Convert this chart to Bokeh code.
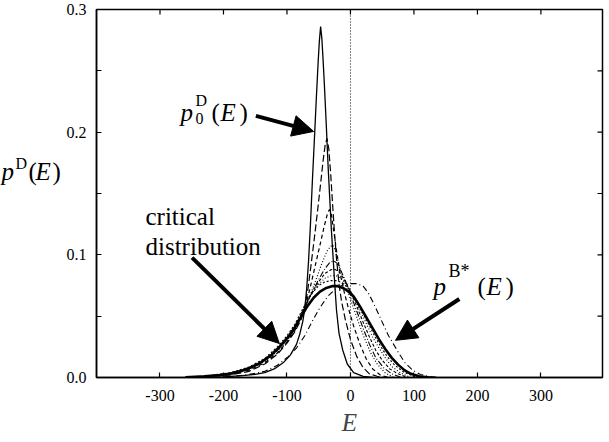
from math import pi
from bokeh.plotting import figure
from bokeh.layouts import row
from bokeh.models import Range1d, FixedTicker, Span, Label, Arrow, NormalHead, PrintfTickFormatter
from bokeh.embed import file_html
from bokeh.resources import INLINE

# ---------------- data ----------------
X_TICKS = [-300, -200, -100, 0, 100, 200, 300]
Y_TICKS = [0.0, 0.1, 0.2, 0.3]
Y_MINOR = [0.05, 0.15, 0.25]
X_MIN, X_MAX = -400, 397
Y_MIN, Y_MAX = 0.0, 0.3

E_P0 = [-250, -200, -170, -150, -135, -120, -105, -95, -85, -80, -75, -72, -69, -66, -63, -60, -57, -54, -51, -49,
        -47, -45, -43, -41, -38, -35, -32, -30, -27, -25, -22, -18, -12, -5, 5, 20, 35]
P_P0 = [0.0, 0.0005, 0.0015, 0.0025, 0.004, 0.007, 0.0125, 0.018, 0.027, 0.035, 0.046, 0.056, 0.072, 0.095, 0.125,
        0.16, 0.192, 0.225, 0.256, 0.274, 0.286, 0.276, 0.258, 0.238, 0.205, 0.17, 0.14, 0.12, 0.095, 0.078, 0.055,
        0.036, 0.022, 0.011, 0.004, 0.001, 0.0]
E_C1 = [-230, -190, -160, -135, -115, -100, -88, -78, -72, -67, -62, -57, -52, -47, -43, -40, -37, -34, -31, -28,
        -25, -22, -18, -14, -8, 0, 10, 20, 30, 42, 55]
P_C1 = [0.0005, 0.002, 0.005, 0.011, 0.019, 0.028, 0.037, 0.047, 0.057, 0.072, 0.092, 0.113, 0.135, 0.158, 0.177,
        0.189, 0.195, 0.186, 0.165, 0.14, 0.117, 0.097, 0.076, 0.062, 0.047, 0.031, 0.017, 0.008, 0.003, 0.001, 0.0]
E_C2 = [-230, -190, -160, -135, -115, -100, -88, -78, -71, -64, -56, -48, -41, -36, -33, -30, -26, -21, -16, -10,
        -3, 5, 15, 25, 35, 47, 60]
P_C2 = [0.0006, 0.0025, 0.006, 0.012, 0.02, 0.029, 0.038, 0.048, 0.058, 0.072, 0.09, 0.108, 0.124, 0.134, 0.137,
        0.133, 0.118, 0.1, 0.084, 0.07, 0.056, 0.042, 0.027, 0.015, 0.007, 0.002, 0.0]
E_C3 = [-230, -190, -160, -135, -115, -100, -88, -78, -70, -62, -54, -45, -37, -31, -28, -24, -19, -13, -6, 2, 12,
        22, 32, 42, 54, 68]
P_C3 = [0.0007, 0.003, 0.0065, 0.013, 0.021, 0.03, 0.039, 0.049, 0.059, 0.069, 0.08, 0.093, 0.103, 0.107, 0.108,
        0.104, 0.094, 0.084, 0.073, 0.061, 0.046, 0.032, 0.02, 0.011, 0.004, 0.0]
E_C4 = [-230, -190, -160, -135, -115, -100, -88, -78, -70, -60, -50, -40, -32, -26, -21, -15, -8, 0, 10, 20, 30, 40,
        52, 65, 80]
P_C4 = [0.0008, 0.0032, 0.007, 0.014, 0.022, 0.031, 0.04, 0.05, 0.059, 0.07, 0.08, 0.089, 0.094, 0.095, 0.093,
        0.087, 0.079, 0.068, 0.054, 0.04, 0.027, 0.016, 0.008, 0.003, 0.0]
E_C5 = [-230, -190, -160, -135, -115, -100, -88, -78, -70, -60, -50, -40, -30, -24, -18, -10, 0, 10, 20, 30, 40, 50,
        62, 75, 90]
P_C5 = [0.0009, 0.0034, 0.0075, 0.0145, 0.023, 0.032, 0.041, 0.051, 0.06, 0.07, 0.078, 0.085, 0.088, 0.088, 0.086,
        0.08, 0.07, 0.058, 0.045, 0.033, 0.022, 0.014, 0.007, 0.003, 0.0]
E_C6 = [-230, -190, -160, -135, -115, -100, -88, -78, -70, -60, -50, -40, -30, -23, -15, -5, 5, 15, 25, 35, 45, 55,
        65, 78, 95]
P_C6 = [0.001, 0.0036, 0.008, 0.015, 0.024, 0.033, 0.042, 0.052, 0.06, 0.069, 0.076, 0.081, 0.083, 0.083, 0.081,
        0.075, 0.066, 0.055, 0.044, 0.033, 0.024, 0.016, 0.009, 0.004, 0.0]
E_C7 = [-230, -190, -160, -135, -115, -100, -88, -78, -70, -60, -50, -40, -30, -22, -12, -2, 8, 18, 28, 38, 48, 58,
        70, 85, 105]
P_C7 = [0.001, 0.0038, 0.0085, 0.0155, 0.025, 0.034, 0.043, 0.053, 0.061, 0.069, 0.075, 0.078, 0.079, 0.079, 0.077,
        0.072, 0.064, 0.054, 0.044, 0.034, 0.025, 0.017, 0.01, 0.004, 0.0]
E_CR = [-260, -230, -205, -185, -165, -145, -125, -108, -95, -85, -76, -68, -58, -48, -38, -28, -20, -12, -4, 5, 15,
        25, 35, 45, 55, 65, 75, 85, 95, 108, 125]
P_CR = [0.0002, 0.001, 0.002, 0.0035, 0.0065, 0.011, 0.018, 0.027, 0.035, 0.043, 0.051, 0.058, 0.065, 0.07, 0.073,
        0.0745, 0.0745, 0.073, 0.0705, 0.066, 0.058, 0.049, 0.04, 0.031, 0.023, 0.016, 0.0105, 0.006, 0.003, 0.001,
        0.0]
E_PB = [-200, -165, -135, -115, -98, -85, -72, -60, -48, -36, -24, -12, 0, 10, 20, 28, 36, 44, 52, 60, 68, 76, 86,
        98, 110, 125, 140]
P_PB = [0.0, 0.002, 0.005, 0.01, 0.017, 0.024, 0.034, 0.046, 0.057, 0.066, 0.072, 0.0755, 0.0765, 0.0765, 0.0745,
        0.069, 0.061, 0.052, 0.043, 0.034, 0.027, 0.02, 0.012, 0.006, 0.0025, 0.0008, 0.0]

SERIES = [
    (E_P0, P_P0, "solid", 1.3), (E_C1, P_C1, "7 3", 1.2), (E_C2, P_C2, "4 3", 1.2), (E_C3, P_C3, "1 2", 1.2),
    (E_C4, P_C4, "6 2 1 2", 1.1), (E_C5, P_C5, "3 2", 1.1), (E_C6, P_C6, "1 2", 1.1), (E_C7, P_C7, "2 2", 1.1),
    (E_CR, P_CR, "solid", 2.6), (E_PB, P_PB, "6 3 1 3", 1.1),
]

FONT = "Liberation Serif"
LEFT_W = 63
MAIN_BORDER_LEFT = 96 - LEFT_W
TOP = 9


def lab(fig, text, x, y, size, style="normal"):
    fig.add_layout(Label(x=x, y=y, text=text, text_font=FONT, text_font_size=f"{size}px",
                         text_font_style=style, text_align="left", text_baseline="alphabetic",
                         text_color="black"))


# ---------------- left strip holding the y-axis title ----------------
left = figure(width=LEFT_W, height=442, output_backend="svg", toolbar_location=None,
              x_range=Range1d(0, LEFT_W), y_range=Range1d(442, 0), min_border=0,
              x_axis_location=None, y_axis_location=None)
left.grid.visible = False
left.outline_line_color = None
left.background_fill_color = "white"
left.border_fill_color = "white"

lab(left, "p", 1, 194, 25, "italic")
lab(left, "D", 15, 185, 16)
lab(left, "(", 28, 194, 25)
lab(left, "E", 35, 194, 25, "italic")
lab(left, ")", 52, 194, 25)

# ---------------- main figure ----------------
p = figure(width=609 - LEFT_W, height=442, output_backend="svg", toolbar_location=None,
           x_range=Range1d(X_MIN, X_MAX), y_range=Range1d(Y_MIN, Y_MAX),
           min_border_left=MAIN_BORDER_LEFT, min_border_right=7, min_border_top=TOP, min_border_bottom=65)
p.xgrid.visible = False
p.ygrid.visible = False
p.outline_line_color = "black"
p.outline_line_width = 1.5
p.background_fill_color = "white"
p.border_fill_color = "white"


def style_axis(ax):
    ax.major_tick_in = 5
    ax.major_tick_out = 0
    ax.minor_tick_in = 5
    ax.minor_tick_out = 0
    ax.axis_line_width = 1.5
    ax.axis_line_color = "black"
    ax.major_tick_line_color = "black"
    ax.minor_tick_line_color = "black"
    ax.major_tick_line_width = 1.2
    ax.minor_tick_line_width = 1.2
    ax.major_label_text_font = FONT
    ax.major_label_text_font_size = "16px"
    ax.major_label_text_color = "black"


xa = p.xaxis[0]
xa.ticker = FixedTicker(ticks=X_TICKS)
xa.formatter = PrintfTickFormatter(format="%d")
style_axis(xa)
xa.major_label_standoff = 12
xa.axis_label = "E"
xa.axis_label_text_font = FONT
xa.axis_label_text_font_style = "italic"
xa.axis_label_text_font_size = "25px"
xa.axis_label_standoff = 5

ya = p.yaxis[0]
ya.ticker = FixedTicker(ticks=Y_TICKS, minor_ticks=Y_MINOR)
ya.formatter = PrintfTickFormatter(format="%.1f")
style_axis(ya)
ya.major_label_standoff = 10

# inward ticks on the top and right edges of the frame
p.ray(x=X_TICKS, y=[Y_MAX] * len(X_TICKS), length=5, length_units="screen", angle=-pi / 2,
      line_color="black", line_width=1.2)
YR = Y_TICKS + Y_MINOR
p.ray(x=[X_MAX] * len(YR), y=YR, length=5, length_units="screen", angle=pi,
      line_color="black", line_width=1.2)

p.add_layout(Span(location=0, dimension="height", line_color="black", line_dash="1 2", line_width=1))

for ex, py, dash, lw in SERIES:
    p.line(ex, py, line_color="black", line_width=lw, line_dash=dash)

# ---------------- annotations (positions given in page pixels) ----------------
FX0, FX1, FY0, FY1 = 96.0, 602.0, float(TOP), 377.0


def dx(cx):
    return X_MIN + (cx - FX0) / (FX1 - FX0) * (X_MAX - X_MIN)


def dy(cy):
    return Y_MIN + (FY1 - cy) / (FY1 - FY0) * (Y_MAX - Y_MIN)


def plab(text, cx, cy, size, style="normal"):
    lab(p, text, dx(cx), dy(cy), size, style)


# p0^D(E)
plab("p", 180, 112, 25, "italic")
plab("D", 195, 100, 16)
plab("0", 195, 118, 16)
plab("(", 211, 112, 25)
plab("E", 220, 112, 25, "italic")
plab(")", 239, 112, 25)

# p^{B*}(E)
plab("p", 433, 286, 25, "italic")
plab("B*", 448, 270, 18)
plab("(", 477, 286, 25)
plab("E", 486, 286, 25, "italic")
plab(")", 505, 286, 25)

# critical distribution
plab("critical", 145, 216, 25)
plab("distribution", 145, 246, 25)

for (x1, y1, x2, y2) in [(-149, 0.2133, -58, 0.2006), (-249.5, 0.0977, -112, 0.0277), (171.5, 0.064, 71, 0.0303)]:
    p.add_layout(Arrow(end=NormalHead(size=21, fill_color="black", line_color="black"),
                       x_start=x1, y_start=y1, x_end=x2, y_end=y2, line_width=4, line_color="black"))

open("out.html", "w").write(file_html(row(left, p, spacing=0), INLINE))
